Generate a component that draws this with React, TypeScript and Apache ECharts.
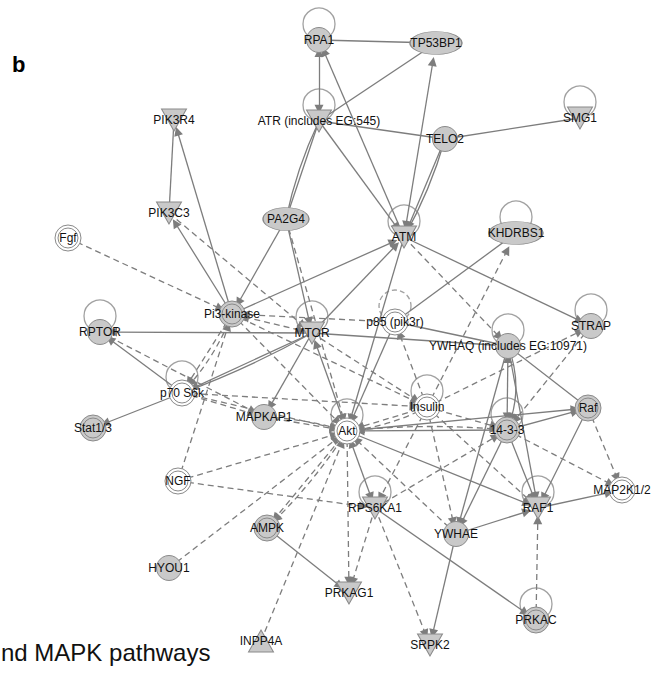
import React, { useEffect, useRef } from "react";
import * as echarts from "echarts";

// ---- nodes ----
const nodeNames = [
  "RPA1", "TP53BP1", "ATR (includes EG:545)", "TELO2", "SMG1", "PIK3R4", "PIK3C3", "PA2G4",
  "ATM", "KHDRBS1", "Fgf", "Pi3-kinase", "MTOR", "p85 (pik3r)", "RPTOR", "STRAP",
  "YWHAQ (includes EG:10971)", "p70 S6k", "Insulin", "Stat1/3", "MAPKAP1", "Akt", "Raf", "14-3-3",
  "NGF", "MAP2K1/2", "RPS6KA1", "RAF1", "YWHAE", "AMPK", "HYOU1", "PRKAG1",
  "PRKAC", "INPP4A", "SRPK2",
];
const nodeX = [
  319, 436, 319, 445, 580, 174, 169, 286,
  404, 516, 68, 232, 312, 395, 100, 591,
  508, 182, 427, 93, 264, 347, 588, 507,
  178, 622, 375, 538, 456, 267, 169, 349,
  536, 261, 430,
];
const nodeY = [
  40, 43, 121, 139, 118, 120, 213, 219,
  237, 233, 238, 314, 333, 322, 332, 326,
  346, 393, 407, 428, 417, 431, 408, 430,
  481, 490, 508, 508, 534, 528, 568, 593,
  620, 641, 645,
];
// shape: c = circle, e = ellipse, t = triangle down, u = triangle up, d = double circle
const nodeShape = [
  "c", "e", "t", "c", "t", "t", "t", "e",
  "t", "e", "d", "d", "t", "d", "c", "c",
  "c", "d", "d", "d", "c", "d", "d", "d",
  "d", "d", "t", "t", "c", "d", "c", "t",
  "d", "u", "t",
];
// fill: g = grey, w = white
const nodeFill = [
  "g", "g", "g", "g", "g", "g", "g", "g",
  "g", "g", "w", "g", "g", "w", "g", "g",
  "g", "w", "w", "g", "g", "w", "g", "g",
  "w", "w", "g", "g", "g", "g", "g", "g",
  "g", "g", "g",
];
const ellipseW: Record<string, number> = { TP53BP1: 52, PA2G4: 46, KHDRBS1: 54 };

// ---- self loops ----
const loopNodes = [
  "RPA1", "ATR (includes EG:545)", "SMG1", "ATM", "KHDRBS1", "RPTOR", "MTOR", "p85 (pik3r)",
  "STRAP", "YWHAQ (includes EG:10971)", "p70 S6k", "Insulin", "Akt", "14-3-3", "RPS6KA1", "RAF1", "PRKAC",
];
const dashedLoops = ["p85 (pik3r)"];

// ---- edges: [source, target, line (s solid / d dashed), arrow (to / both / none), curveness] ----
const ATR = "ATR (includes EG:545)";
const YWHAQ = "YWHAQ (includes EG:10971)";
const P85 = "p85 (pik3r)";
const edges: [string, string, string, string, number][] = [
  [ATR, "RPA1", "s", "both", 0],
  ["RPA1", "TP53BP1", "s", "none", 0],
  ["TP53BP1", ATR, "s", "none", 0],
  ["ATM", "RPA1", "s", "to", 0],
  ["ATM", "TP53BP1", "s", "both", 0],
  [ATR, "TELO2", "s", "none", 0],
  ["TELO2", "SMG1", "s", "none", 0],
  ["TELO2", "ATM", "s", "to", 0],
  ["TELO2", "ATM", "s", "none", 0.06],
  [ATR, "ATM", "s", "to", 0],
  ["PA2G4", ATR, "s", "none", 0],
  ["PA2G4", ATR, "s", "none", 0.06],
  ["PIK3C3", "PIK3R4", "s", "none", 0],
  ["Pi3-kinase", "PIK3R4", "s", "to", 0],
  ["Pi3-kinase", "PIK3C3", "s", "to", 0],
  ["PA2G4", "Pi3-kinase", "s", "to", 0],
  ["Fgf", "Pi3-kinase", "d", "to", 0],
  ["Pi3-kinase", "ATM", "s", "to", 0],
  ["PA2G4", "MTOR", "s", "to", 0],
  ["PA2G4", "Akt", "d", "to", 0],
  ["MTOR", "Akt", "s", "both", 0],
  ["PIK3C3", "MTOR", "d", "to", 0],
  ["Pi3-kinase", "MTOR", "d", "both", 0],
  [P85, "Pi3-kinase", "d", "to", 0],
  ["Pi3-kinase", "Akt", "d", "to", 0],
  ["Pi3-kinase", "p70 S6k", "d", "to", 0],
  ["Pi3-kinase", "p70 S6k", "d", "to", 0.1],
  ["NGF", "Pi3-kinase", "d", "to", 0],
  ["MTOR", "p70 S6k", "s", "to", 0],
  ["MTOR", "p70 S6k", "s", "none", 0.04],
  ["MTOR", "RPTOR", "s", "to", 0],
  ["MTOR", YWHAQ, "s", "none", 0],
  ["MTOR", "MAPKAP1", "s", "to", 0],
  ["MTOR", "Insulin", "d", "to", 0],
  ["MTOR", "ATM", "s", "to", 0],
  ["p70 S6k", "RPTOR", "s", "to", 0],
  ["RPTOR", "MAPKAP1", "d", "to", 0],
  ["p70 S6k", "MAPKAP1", "d", "to", 0],
  ["p70 S6k", "Stat1/3", "s", "to", 0],
  ["p70 S6k", "Akt", "d", "to", 0],
  ["p70 S6k", "Insulin", "d", "to", 0],
  ["NGF", "Akt", "d", "to", 0],
  ["NGF", "RPS6KA1", "d", "to", 0],
  ["HYOU1", "Akt", "d", "to", 0],
  ["INPP4A", "Akt", "d", "to", 0],
  ["Akt", "AMPK", "d", "to", 0],
  ["Akt", "AMPK", "d", "to", 0.06],
  ["AMPK", "PRKAG1", "s", "to", 0],
  ["Akt", "PRKAG1", "d", "to", 0],
  ["RPS6KA1", "PRKAG1", "d", "to", 0],
  ["Akt", "RPS6KA1", "s", "both", 0],
  ["RPS6KA1", "SRPK2", "d", "to", 0],
  ["RPS6KA1", "PRKAC", "s", "to", 0],
  ["YWHAE", "SRPK2", "s", "to", 0],
  ["PRKAC", "RAF1", "d", "to", 0],
  ["YWHAE", "RAF1", "s", "to", 0],
  ["RAF1", "MAP2K1/2", "s", "to", 0],
  [YWHAQ, "YWHAE", "s", "to", 0],
  ["14-3-3", "YWHAE", "s", "to", 0],
  ["14-3-3", "RAF1", "s", "to", 0],
  [YWHAQ, "RAF1", "s", "to", 0],
  ["Raf", "RAF1", "s", "to", 0],
  ["Akt", "RAF1", "s", "to", 0],
  ["14-3-3", "MAP2K1/2", "d", "to", 0],
  ["Raf", "MAP2K1/2", "d", "to", 0],
  ["Insulin", "RAF1", "d", "to", 0],
  ["Insulin", "YWHAE", "d", "to", 0],
  ["Insulin", "RPS6KA1", "d", "to", 0],
  ["RPS6KA1", "14-3-3", "d", "to", 0],
  ["YWHAE", "Akt", "d", "to", 0],
  ["14-3-3", "Akt", "s", "to", 0],
  ["Akt", "14-3-3", "d", "to", 0.05],
  ["Insulin", "14-3-3", "d", "to", 0],
  ["14-3-3", "Raf", "s", "to", 0],
  ["Akt", "Raf", "s", "to", 0],
  [YWHAQ, "Raf", "s", "none", 0],
  [YWHAQ, "14-3-3", "s", "both", 0],
  [YWHAQ, "14-3-3", "s", "to", 0.2],
  ["STRAP", "14-3-3", "d", "to", 0],
  ["Insulin", "STRAP", "d", "to", 0],
  ["Insulin", "KHDRBS1", "d", "to", 0],
  [P85, "KHDRBS1", "s", "none", 0],
  [P85, YWHAQ, "s", "none", 0],
  ["Insulin", P85, "d", "to", 0],
  [P85, "Akt", "s", "to", 0],
  ["ATM", "Akt", "s", "to", 0],
  ["ATM", YWHAQ, "d", "to", 0],
  ["ATM", "STRAP", "s", "to", 0],
  ["MAPKAP1", "Akt", "d", "to", 0],
  ["MAPKAP1", "Akt", "d", "to", 0.06],
  ["Insulin", "Akt", "d", "to", 0],
  ["Insulin", "Akt", "d", "to", 0.1],
  ["Pi3-kinase", "Insulin", "d", "to", 0],
];

const FONT = "'Liberation Sans', Arial, Helvetica, sans-serif";
const LINE = "#7d7d7d";
const BORDER = "#8a8a8a";
const GREY = "#c9c9c9";
const DOUBLE =
  "path://M13,0A13,13,0,1,1,-13,0A13,13,0,1,1,13,0ZM10,0A10,10,0,1,1,-10,0A10,10,0,1,1,10,0Z";

export default function App() {
  const ref = useRef<HTMLDivElement>(null);
  useEffect(() => {
    if (!ref.current) return;
    const chart = echarts.init(ref.current, undefined, { renderer: "svg" });

    const nodes = nodeNames.map((name, i) => {
      const shape = nodeShape[i];
      let symbol = "circle";
      let symbolSize: any = 25;
      let symbolRotate = 0;
      if (shape === "e") symbolSize = [ellipseW[name] || 50, 23];
      if (shape === "t") { symbol = "triangle"; symbolSize = [25, 22]; symbolRotate = 180; }
      if (shape === "u") { symbol = "triangle"; symbolSize = [25, 22]; }
      if (shape === "d") { symbol = DOUBLE; symbolSize = 26; }
      return {
        name,
        value: [nodeX[i], nodeY[i]],
        symbol,
        symbolSize,
        symbolRotate,
        itemStyle: {
          color: nodeFill[i] === "g" ? GREY : "#ffffff",
          borderColor: BORDER,
          borderWidth: 1,
        },
      };
    });

    const links = edges.map(([s, t, line, arrow, curve]) => ({
      source: s,
      target: t,
      symbol: arrow === "both" ? ["triangle", "triangle"] : arrow === "to" ? ["none", "triangle"] : ["none", "none"],
      symbolSize: [9, 9],
      lineStyle: {
        color: LINE,
        width: 1.3,
        type: line === "d" ? [6, 4] : "solid",
        curveness: curve,
      },
    }));

    const loops = loopNodes.map((n) => {
      const i = nodeNames.indexOf(n);
      return {
        value: [nodeX[i], nodeY[i] - 16],
        itemStyle: {
          color: "rgba(0,0,0,0)",
          borderColor: BORDER,
          borderWidth: 1.3,
          borderType: dashedLoops.includes(n) ? [5, 3] : "solid",
        },
      };
    });

    chart.setOption({
      animation: false,
      backgroundColor: "#ffffff",
      grid: { left: 0, right: 0, top: 0, bottom: 0 },
      xAxis: { type: "value", min: 0, max: 653, show: false },
      yAxis: { type: "value", min: 0, max: 673, inverse: true, show: false },
      graphic: [
        {
          type: "text",
          x: 12,
          y: 53,
          style: { text: "b", font: `bold 22px ${FONT}`, fill: "#000", verticalAlign: "top" },
        },
        {
          type: "text",
          x: 1,
          y: 640,
          style: { text: "nd MAPK pathways", font: `24px ${FONT}`, fill: "#111", verticalAlign: "top" },
        },
      ],
      series: [
        {
          type: "scatter",
          coordinateSystem: "cartesian2d",
          symbol: "circle",
          symbolSize: 32,
          z: 1,
          silent: true,
          data: loops,
        },
        {
          type: "graph",
          coordinateSystem: "cartesian2d",
          layout: "none",
          z: 2,
          data: nodes,
          links,
          label: {
            show: true,
            position: "inside",
            color: "#111",
            fontSize: 12,
            fontFamily: FONT,
            formatter: "{b}",
          },
          lineStyle: { color: LINE, width: 1.3, opacity: 1 },
          emphasis: { disabled: true },
        },
      ],
    });
    return () => chart.dispose();
  }, []);
  return (
    <div
      ref={ref}
      style={{ position: "fixed", left: 0, top: 0, width: 653, height: 673, background: "#fff" }}
    />
  );
}
